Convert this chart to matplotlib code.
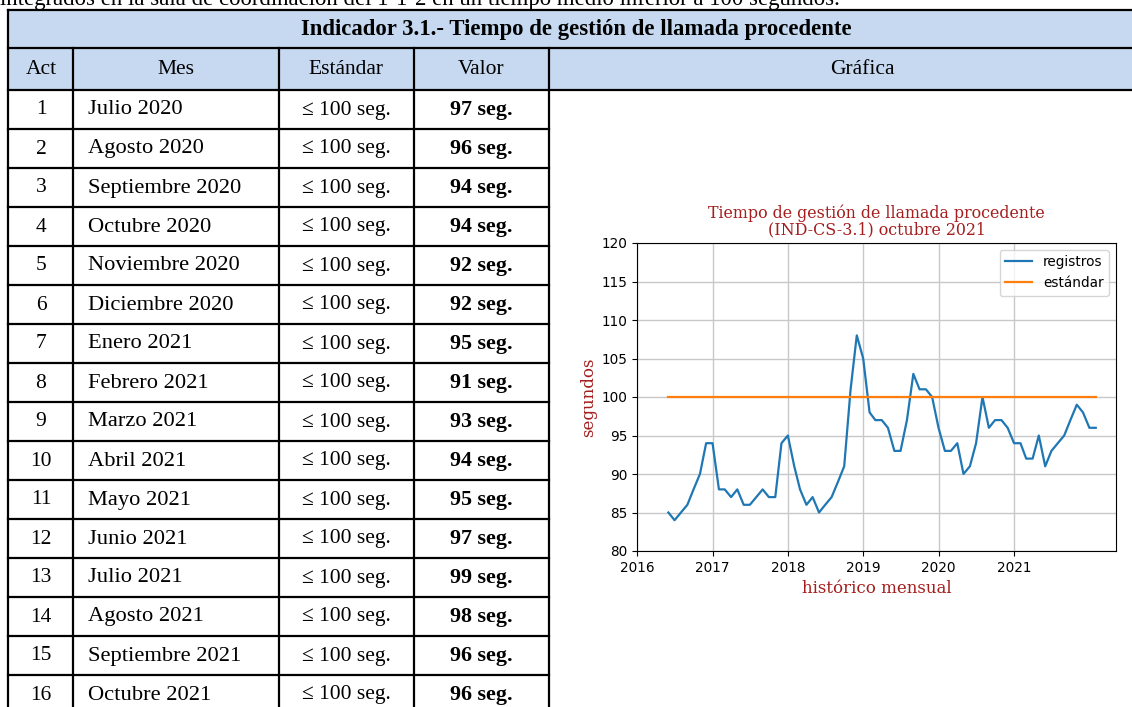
import matplotlib
matplotlib.use("Agg")
import matplotlib.pyplot as plt
from matplotlib.patches import Rectangle
import pandas as pd

W, H = 1132, 707

# datos de la tabla
acts = list(range(1, 17))
meses = ["Julio 2020", "Agosto 2020", "Septiembre 2020", "Octubre 2020", "Noviembre 2020",
         "Diciembre 2020", "Enero 2021", "Febrero 2021", "Marzo 2021", "Abril 2021",
         "Mayo 2021", "Junio 2021", "Julio 2021", "Agosto 2021", "Septiembre 2021",
         "Octubre 2021"]
estandar_txt = "≤ 100 seg."
valores = [97, 96, 94, 94, 92, 92, 95, 91, 93, 94, 95, 97, 99, 98, 96, 96]
cabeceras = ["Act", "Mes", "Estándar", "Valor", "Gráfica"]
titulo_tabla = "Indicador 3.1.- Tiempo de gestión de llamada procedente"
texto_previo = ("integrados en la sala de coordinación del 1-1-2 en un tiempo medio "
                "inferior a 100 segundos.")

# datos de la grafica (historico mensual)
registros = [85, 84, 85, 86, 88, 90, 94, 94, 88, 88,
             87, 88, 86, 86, 87, 88, 87, 87, 94, 95,
             91, 88, 86, 87, 85, 86, 87, 89, 91, 101,
             108, 105, 98, 97, 97, 96, 93, 93, 97, 103,
             101, 101, 100, 96, 93, 93, 94, 90, 91, 94,
             100, 96, 97, 97, 96, 94, 94, 92, 92, 95,
             91, 93, 94, 95, 97, 99, 98, 96, 96]
estandar = 100
anios = [2016, 2017, 2018, 2019, 2020, 2021]
fechas = pd.date_range("2016-06-01", periods=len(registros), freq="MS")

serif = ["Liberation Serif", "DejaVu Serif"]
azul = "#c6d9f1"
rojo = "#a51d1d"

fig = plt.figure(figsize=(W / 100, H / 100), dpi=100)

# --- tabla dibujada en coordenadas de pixel ---
tab = fig.add_axes([0, 0, 1, 1])
tab.set_xlim(0, W)
tab.set_ylim(H, 0)
tab.axis("off")

col_x = [8, 73, 279, 414, 549, 1145]
y_top, y_head, y_data = 10, 48, 89.5
row_h = 39

tab.text(0, 5, texto_previo, family=serif, fontsize=16.4, va="baseline", ha="left")

tab.add_patch(Rectangle((col_x[0], y_top), col_x[-1] - col_x[0], y_data - y_top,
                        facecolor=azul, edgecolor="none"))
lw = 1.6
for y in (y_top, y_head, y_data):
    tab.plot([col_x[0], col_x[-1]], [y, y], color="black", lw=lw)
for i in range(1, len(acts) + 1):
    y = y_data + row_h * i
    tab.plot([col_x[0], col_x[4]], [y, y], color="black", lw=lw)
tab.plot([col_x[0], col_x[0]], [y_top, H + 10], color="black", lw=lw)
for x in col_x[1:5]:
    tab.plot([x, x], [y_head, H + 10], color="black", lw=lw)

tab.text(576, (y_top + y_head) / 2, titulo_tabla, family=serif, fontsize=16.4,
         weight="bold", ha="center", va="center")
head_cx = [41, 176, 346, 481, 862]
for cx, t in zip(head_cx, cabeceras):
    tab.text(cx, (y_head + y_data) / 2 + 1, t, family=serif, fontsize=15.5,
             ha="center", va="center")

for i, (a, m, v) in enumerate(zip(acts, meses, valores)):
    cy = y_data + row_h * i + row_h / 2 + 1
    tab.text(41, cy, str(a), family=serif, fontsize=15.5, ha="center", va="center")
    tab.text(88, cy, m, family=serif, fontsize=16.2, ha="left", va="center")
    tab.text(346, cy, estandar_txt, family=serif, fontsize=15.5, ha="center", va="center")
    tab.text(481, cy, f"{v} seg.", family=serif, fontsize=15.8, weight="bold",
             ha="center", va="center")

# --- grafica ---
ax = fig.add_axes([637 / W, 1 - 551 / H, (1116 - 637) / W, (551 - 243) / H])
ax.plot(fechas, registros, color="tab:blue", lw=1.6, label="registros")
ax.plot(fechas, [estandar] * len(fechas), color="tab:orange", lw=1.6, label="estándar")
ax.set_xlim(pd.Timestamp("2016-01-01"), pd.Timestamp("2022-05-10"))
ax.set_ylim(80, 120)
ax.set_yticks(range(80, 121, 5))
ax.set_xticks([pd.Timestamp(f"{a}-01-01") for a in anios])
ax.set_xticklabels([str(a) for a in anios])
ax.tick_params(labelsize=9.8)
ax.grid(True, color="#c8c8c8", lw=1)
ax.set_axisbelow(True)
ax.set_title("Tiempo de gestión de llamada procedente\n(IND-CS-3.1) octubre 2021",
             family="serif", color=rojo, fontsize=11.4, pad=6.5, linespacing=0.95)
ax.set_xlabel("histórico mensual", family="serif", color=rojo, fontsize=12, labelpad=4)
ax.set_ylabel("segundos", family="serif", color=rojo, fontsize=12, labelpad=3)
ax.legend(loc="upper right", fontsize=9.8)

fig.savefig("out.png", dpi=100)
